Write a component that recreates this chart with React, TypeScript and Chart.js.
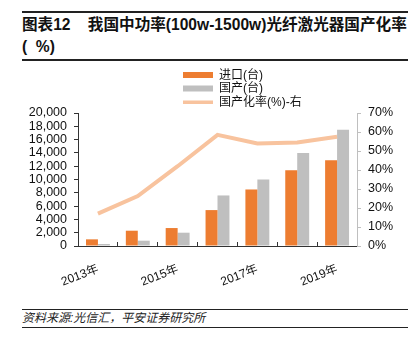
import React, { useEffect, useRef } from 'react';
import { Chart, registerables } from 'chart.js';

Chart.register(...registerables);

const categories = ['2013年', '2014年', '2015年', '2016年', '2017年', '2018年', '2019年'];
const importUnits = [1000, 2300, 2700, 5400, 8500, 11400, 12900];
const domesticUnits = [300, 800, 2000, 7600, 10000, 14000, 17500];
const localizationRate = [17, 26.3, 42, 58.5, 54, 54.5, 57.5];
const seriesNames = ['进口(台)', '国产(台)', '国产化率(%)-右'];
const titleLine1 = '图表12    我国中功率(100w-1500w)光纤激光器国产化率';
const titleLine2 = '(  %)';
const sourceText = '资料来源:光信汇，平安证券研究所';

const FONT = '"Liberation Sans", Arial, "Noto Sans CJK SC", sans-serif';

const legendPlugin = {
  id: 'vlegend',
  afterDraw(chart: any) {
    const { ctx, chartArea } = chart;
    const x0 = chartArea.left + 105;
    const offsets = [-38, -24.5, -11];
    chart.data.datasets.forEach((ds: any, i: number) => {
      const y = chartArea.top + offsets[i];
      ctx.save();
      if (ds.type === 'line') {
        ctx.fillStyle = ds.borderColor;
        ctx.fillRect(x0, y - 1.5, 30, 3.5);
      } else {
        ctx.fillStyle = ds.backgroundColor;
        ctx.fillRect(x0, y - 3, 30, 6);
      }
      ctx.fillStyle = '#111';
      ctx.font = '12px ' + FONT;
      ctx.textBaseline = 'middle';
      ctx.textAlign = 'left';
      ctx.fillText(ds.label, x0 + 36, y + 0.5);
      ctx.restore();
    });
  },
};

function ChartView() {
  const ref = useRef<HTMLCanvasElement>(null);
  useEffect(() => {
    if (!ref.current) return;
    const chart = new Chart(ref.current, {
      type: 'bar',
      data: {
        labels: categories,
        datasets: [
          {
            type: 'bar',
            label: seriesNames[0],
            data: importUnits,
            backgroundColor: '#ED7D31',
            yAxisID: 'y',
            order: 1,
            categoryPercentage: 0.6,
            barPercentage: 1.0,
          } as any,
          {
            type: 'bar',
            label: seriesNames[1],
            data: domesticUnits,
            backgroundColor: '#BFBFBF',
            yAxisID: 'y',
            order: 1,
            categoryPercentage: 0.6,
            barPercentage: 1.0,
          } as any,
          {
            type: 'line',
            label: seriesNames[2],
            data: localizationRate,
            borderColor: '#F8C39E',
            borderWidth: 4,
            pointRadius: 0,
            tension: 0,
            yAxisID: 'y1',
            order: 0,
          } as any,
        ],
      },
      options: {
        responsive: false,
        devicePixelRatio: 1,
        animation: false,
        layout: { padding: { top: 51, left: 0, right: 0, bottom: 0 } },
        plugins: {
          legend: { display: false },
          tooltip: { enabled: false },
        },
        scales: {
          x: {
            grid: {
              drawOnChartArea: false,
              drawTicks: true,
              tickLength: -4,
              color: '#333',
              offset: true,
            },
            border: { color: '#333', width: 1 },
            ticks: {
              autoSkip: false,
              maxRotation: 21,
              minRotation: 21,
              padding: 20,
              color: '#111',
              font: { size: 12, family: FONT },
              callback: (_v: any, i: number) => (i % 2 === 0 ? categories[i] : ''),
            },
            afterFit: (s: any) => {
              s.height = 61;
            },
          },
          y: {
            position: 'left',
            min: 0,
            max: 20000,
            grid: { drawOnChartArea: false, drawTicks: true, tickLength: 4, color: '#333' },
            border: { color: '#333', width: 1 },
            ticks: {
              stepSize: 2000,
              autoSkip: false,
              padding: 7,
              color: '#111',
              font: { size: 12.5, family: FONT },
            },
            afterFit: (s: any) => {
              s.width = 78;
            },
          },
          y1: {
            position: 'right',
            min: 0,
            max: 70,
            grid: { drawOnChartArea: false, drawTicks: true, tickLength: 4, color: '#BFBFBF' },
            border: { color: '#BFBFBF', width: 1 },
            ticks: {
              stepSize: 10,
              autoSkip: false,
              padding: 7,
              color: '#111',
              font: { size: 12.5, family: FONT },
              callback: (v: any) => v + '%',
            },
            afterFit: (s: any) => {
              s.width = 58;
            },
          },
        },
      },
      plugins: [legendPlugin],
    });
    return () => chart.destroy();
  }, []);
  return (
    <canvas
      ref={ref}
      width={415}
      height={245}
      style={{ position: 'absolute', left: 0, top: 62, width: 415, height: 245, display: 'block' }}
    />
  );
}

export default function App() {
  useEffect(() => {
    document.body.style.margin = '0';
  }, []);
  const rule = (top: number, h: number) => (
    <div style={{ position: 'absolute', left: 22, width: 386, top, height: h, background: '#222' }} />
  );
  return (
    <div style={{ position: 'relative', width: 415, height: 360, background: '#fff', overflow: 'hidden', fontFamily: FONT }}>
      {rule(11, 2)}
      <div
        style={{
          position: 'absolute',
          left: 22,
          top: 14,
          fontSize: 15.6,
          lineHeight: '22px',
          fontWeight: 'bold',
          color: '#111',
          whiteSpace: 'pre',
        }}
      >
        {titleLine1}
        {'\n'}
        {titleLine2}
      </div>
      {rule(59, 1.5)}
      <ChartView />
      {rule(308.5, 1.5)}
      <div
        style={{
          position: 'absolute',
          left: 22,
          top: 310,
          fontSize: 12,
          lineHeight: '16px',
          fontStyle: 'italic',
          color: '#222',
          whiteSpace: 'pre',
        }}
      >
        {sourceText}
      </div>
      {rule(326.5, 1)}
    </div>
  );
}
